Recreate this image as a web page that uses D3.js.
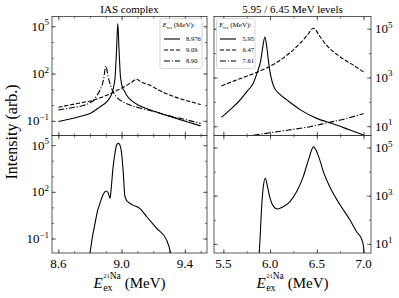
<!DOCTYPE html>
<html>
<head>
<meta charset="utf-8">
<script src="https://cdn.jsdelivr.net/npm/d3@7"></script>
<style>
  body { margin: 0; background: #fff; }
  svg { display: block; font-family: "Liberation Serif", serif; }
</style>
</head>
<body>
<svg id="chart" width="399" height="298"></svg>
<script>
// ---- data: [E (MeV), intensity] ----
const iasLabels = ["8.976", "9.09", "8.90"];
const levelLabels = ["5.95", "6.47", "7.61"];

const ias8976 = [[8.60,0.09],[8.70,0.15],[8.755,0.21],[8.81,0.33],[8.86,0.72],[8.91,1.8],[8.93,3.5],
  [8.945,9],[8.959,60],[8.968,3000],[8.976,1.5e5],[8.984,3000],[8.993,60],[9.007,12],[9.015,8.7],
  [9.032,4.2],[9.063,1.9],[9.115,0.9],[9.217,0.38],[9.33,0.16],[9.423,0.082],[9.50,0.048]];
const ias909 = [[8.60,0.72],[8.70,1.15],[8.758,1.5],[8.81,1.9],[8.87,3.0],[8.927,5.2],[8.98,9.5],
  [9.033,18],[9.065,29],[9.095,43],[9.125,29],[9.179,18],[9.23,9.5],[9.285,5.2],[9.34,3.2],
  [9.39,2.2],[9.45,1.5],[9.50,1.07]];
const ias890 = [[8.60,0.49],[8.70,0.72],[8.758,0.93],[8.80,1.4],[8.822,1.95],[8.845,4.2],[8.863,8.7],
  [8.885,38],[8.901,300],[8.915,63],[8.937,11],[8.969,3.2],[9.02,1.4],[9.074,0.85],[9.115,0.65],
  [9.179,0.45],[9.285,0.23],[9.39,0.13],[9.50,0.068]];
const iasTotal = [[8.78,0.003],[8.80,0.012],[8.815,0.12],[8.832,0.93],[8.848,6],[8.863,18],[8.885,72],
  [8.901,112],[8.914,90],[8.927,38],[8.935,200],[8.945,3000],[8.958,3e4],[8.968,1e5],[8.979,1.3e5],
  [8.99,1e5],[9.0,3e4],[9.011,1500],[9.02,60],[9.03,30],[9.042,22],[9.074,14],[9.115,8.7],
  [9.159,2.5],[9.222,0.45],[9.285,0.079],[9.31,0.012],[9.32,0.003]];

const lev595 = [[5.48,23],[5.58,50],[5.68,120],[5.76,290],[5.82,580],[5.86,1500],[5.90,5000],
  [5.92,1.6e4],[5.945,4.5e4],[5.968,1.4e4],[5.99,2800],[6.04,420],[6.10,210],[6.18,120],
  [6.325,47],[6.50,21],[6.68,12.3],[6.855,7],[7.0,4.4]];
const lev647 = [[5.48,450],[5.63,760],[5.785,1260],[5.96,2400],[6.14,6200],[6.32,2.5e4],[6.40,5.5e4],
  [6.465,1.05e5],[6.53,5e4],[6.604,2.1e4],[6.748,7100],[6.89,3200],[7.0,1700]];
const lev761 = [[5.48,3.0],[5.70,3.7],[5.82,4.3],[6.0,5.4],[6.2,7.0],[6.43,9.6],[6.6,13.5],
  [6.8,20],[7.0,33]];
const levTotal = [[5.875,1],[5.892,14.5],[5.91,350],[5.927,2300],[5.95,5300],[5.973,2300],[6.0,780],
  [6.035,370],[6.078,280],[6.14,350],[6.21,560],[6.285,1500],[6.355,6200],[6.41,3e4],[6.465,1.07e5],
  [6.52,4.2e4],[6.57,1e4],[6.64,2300],[6.75,410],[6.855,98],[6.926,32],[6.98,15.5],[7.0,7.6],[7.01,1]];

const leftXTicks = [8.6, 9.0, 9.4];
const rightXTicks = [5.5, 6.0, 6.5, 7.0];
const leftYExp = [-1, 2, 5];
const rightYExp = [1, 3, 5];

// ---- layout ----
const svg = d3.select("#chart");
const LX = [52, 207], RX = [214, 371];
const TOP = [16.5, 135.5], BOT = [135.5, 253];
const dashes = [null, "4.2,1.8", "6,1.8,1.2,1.8"];

function drawPanel(p) {
    const x = d3.scaleLinear().domain(p.xDomain).range(p.xRange);
    const y = d3.scaleLog().domain(p.yDomain).range([p.yRange[1], p.yRange[0]]);
    const w = p.xRange[1] - p.xRange[0], h = p.yRange[1] - p.yRange[0];

    svg.append("clipPath").attr("id", p.id)
        .append("rect").attr("x", p.xRange[0]).attr("y", p.yRange[0])
        .attr("width", w).attr("height", h);

    const line = d3.line()
        .x(d => x(d[0])).y(d => y(d[1]))
        .curve(d3.curveMonotoneX);

    const g = svg.append("g").attr("clip-path", `url(#${p.id})`);
    p.series.forEach((s, i) => {
        g.append("path").datum(s)
            .attr("d", line)
            .attr("fill", "none")
            .attr("stroke", "#000")
            .attr("stroke-width", 1.1)
            .attr("stroke-dasharray", dashes[i]);
    });

    // inward ticks on all four sides
    const minorX = d3.range(p.xMinor[0], p.xMinor[1] + 1e-9, p.xMinor[2]);
    const yMajor = p.yExp.map(e => Math.pow(10, e));
    const yMinor = d3.range(p.yMinor[0], p.yMinor[1] + 1).map(e => Math.pow(10, e));
    const axes = [
        [d3.axisBottom(x), p.yRange[1], true, p.xTicks, minorX],
        [d3.axisTop(x), p.yRange[0], true, p.xTicks, minorX],
        [d3.axisLeft(y), p.xRange[0], false, yMajor, yMinor],
        [d3.axisRight(y), p.xRange[1], false, yMajor, yMinor]
    ];
    axes.forEach(([ax, pos, horiz, major, minor]) => {
        [[minor, 2], [major, 4]].forEach(([vals, len]) => {
            const a = svg.append("g")
                .attr("transform", horiz ? `translate(0,${pos})` : `translate(${pos},0)`)
                .call(ax.tickValues(vals).tickSize(-len).tickFormat(""));
            a.select(".domain").remove();
            a.selectAll("line").attr("stroke", "#333").attr("stroke-width", 0.7);
        });
    });

    svg.append("rect")
        .attr("x", p.xRange[0]).attr("y", p.yRange[0])
        .attr("width", w).attr("height", h)
        .attr("fill", "none").attr("stroke", "#333").attr("stroke-width", 0.8);

    // y tick labels as 10^n
    p.yExp.forEach(e => {
        const t = svg.append("text")
            .attr("x", p.labelRight ? p.xRange[1] + 4 : p.xRange[0] - 3)
            .attr("y", y(Math.pow(10, e)) + 4.5)
            .attr("text-anchor", p.labelRight ? "start" : "end")
            .attr("font-size", 13);
        t.append("tspan").text("10");
        t.append("tspan").attr("dy", -5.5).attr("font-size", 9)
            .text(e < 0 ? "\u2212" + (-e) : e);
    });

    if (p.xLabels) {
        p.xTicks.forEach(v => {
            svg.append("text")
                .attr("x", x(v)).attr("y", 268)
                .attr("text-anchor", "middle").attr("font-size", 13)
                .text(v.toFixed(1));
        });
        xTitle((p.xRange[0] + p.xRange[1]) / 2, 288);
    }
    return {x, y};
}

function xTitle(cx, base) {
    const g = svg.append("g");
    const e = g.append("text").attr("x", 0).attr("y", base).attr("font-size", 15)
        .attr("font-style", "italic").text("E");
    const we = e.node().getComputedTextLength() + 0.5;
    const sub = g.append("text").attr("x", we).attr("y", base + 3).attr("font-size", 10).text("ex");
    const sup = g.append("text").attr("x", we).attr("y", base - 9);
    sup.append("tspan").attr("font-size", 6.5).attr("dy", -1.5).text("21");
    sup.append("tspan").attr("font-size", 9.5).attr("dy", 1.5).text("Na");
    const ws = Math.max(sub.node().getComputedTextLength(), sup.node().getComputedTextLength());
    const m = g.append("text").attr("x", we + ws + 4).attr("y", base).attr("font-size", 15).text("(MeV)");
    const total = we + ws + 4 + m.node().getComputedTextLength();
    g.attr("transform", `translate(${cx - total / 2},0)`);
}

function legend(x0, y0, w, h, lineX, textX, rows, labels) {
    svg.append("rect").attr("x", x0).attr("y", y0).attr("width", w).attr("height", h)
        .attr("rx", 2).attr("fill", "#fff").attr("fill-opacity", 0.9)
        .attr("stroke", "#ccc").attr("stroke-width", 0.8);
    const t = svg.append("text").attr("x", x0 + 2.5).attr("y", y0 + 8.5).attr("font-size", 7);
    t.append("tspan").attr("font-style", "italic").text("E");
    t.append("tspan").attr("font-size", 4.5).attr("dy", 1.5).text("res");
    t.append("tspan").attr("dy", -1.5).text(" (MeV):");
    labels.forEach((lab, i) => {
        svg.append("line").attr("x1", lineX[0]).attr("x2", lineX[1])
            .attr("y1", rows[i]).attr("y2", rows[i])
            .attr("stroke", "#000").attr("stroke-width", 1.1)
            .attr("stroke-dasharray", dashes[i]);
        svg.append("text").attr("x", textX).attr("y", rows[i] + 2.2)
            .attr("font-size", 6.5).text(lab);
    });
}

const leftYD = [Math.pow(10, -1.93), Math.pow(10, 5.62)];
const rightYD = [Math.pow(10, 0.62), Math.pow(10, 5.5)];

drawPanel({id: "c1", xRange: LX, yRange: TOP, xDomain: [8.56, 9.54], yDomain: leftYD,
    series: [ias8976, ias909, ias890], xTicks: leftXTicks, xMinor: [8.6, 9.5, 0.1],
    yExp: leftYExp, yMinor: [-1, 5], labelRight: false, xLabels: false});
drawPanel({id: "c2", xRange: LX, yRange: BOT, xDomain: [8.56, 9.54], yDomain: leftYD,
    series: [iasTotal], xTicks: leftXTicks, xMinor: [8.6, 9.5, 0.1],
    yExp: leftYExp, yMinor: [-1, 5], labelRight: false, xLabels: true});
drawPanel({id: "c3", xRange: RX, yRange: TOP, xDomain: [5.40, 7.08], yDomain: rightYD,
    series: [lev595, lev647, lev761], xTicks: rightXTicks, xMinor: [5.5, 7.0, 0.25],
    yExp: rightYExp, yMinor: [1, 5], labelRight: true, xLabels: false});
drawPanel({id: "c4", xRange: RX, yRange: BOT, xDomain: [5.40, 7.08], yDomain: rightYD,
    series: [levTotal], xTicks: rightXTicks, xMinor: [5.5, 7.0, 0.25],
    yExp: rightYExp, yMinor: [1, 5], labelRight: true, xLabels: true});

legend(160, 18.5, 42, 50, [164, 180], 186, [39, 50, 61], iasLabels);
legend(216.5, 18.5, 38.5, 50, [220, 236], 242.5, [39, 50, 61], levelLabels);

svg.append("text").attr("x", (LX[0] + LX[1]) / 2).attr("y", 12.5)
    .attr("text-anchor", "middle").attr("font-size", 11).text("IAS complex");
svg.append("text").attr("x", (RX[0] + RX[1]) / 2).attr("y", 12.5)
    .attr("text-anchor", "middle").attr("font-size", 11).text("5.95 / 6.45 MeV levels");

svg.append("text")
    .attr("transform", "translate(17,132) rotate(-90)")
    .attr("text-anchor", "middle").attr("font-size", 16)
    .text("Intensity (arb.)");
</script>
</body>
</html>
